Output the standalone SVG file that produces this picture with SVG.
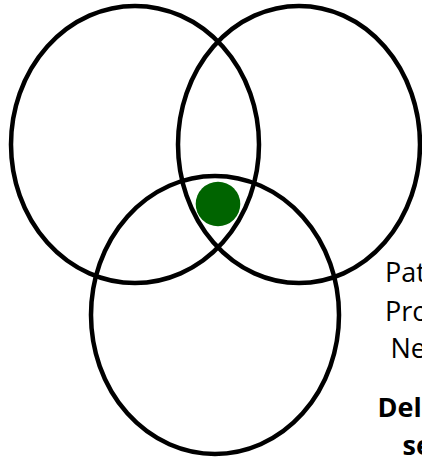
<svg xmlns="http://www.w3.org/2000/svg" width="422" height="457" viewBox="0 0 422 457">
<style>
.ring{fill:none;stroke:#000;stroke-width:4.5}
.lbl{font-family:"Open Sans","Liberation Sans",sans-serif;font-size:27px;fill:#000}
.b{font-weight:bold}
</style>
<rect width="422" height="457" fill="#fff"/>
<g id="circle-left"><ellipse class="ring" cx="135" cy="144.5" rx="124" ry="138.6"/></g>
<g id="circle-right"><ellipse class="ring" cx="299" cy="144.5" rx="121" ry="138.6"/></g>
<g id="circle-bottom"><ellipse class="ring" cx="215" cy="315" rx="124" ry="139"/></g>
<g id="center-dot"><circle cx="218" cy="204" r="22.3" fill="#006400"/></g>
<g id="labels">
<text class="lbl" x="385" y="282.3">Pat</text>
<text class="lbl" x="385" y="320.7">Pro</text>
<text class="lbl" x="390.5" y="358.3">Ne</text>
<text class="lbl b" x="377.5" y="416.7">Del</text>
<text class="lbl b" x="402.5" y="455">se</text>
</g>
</svg>
